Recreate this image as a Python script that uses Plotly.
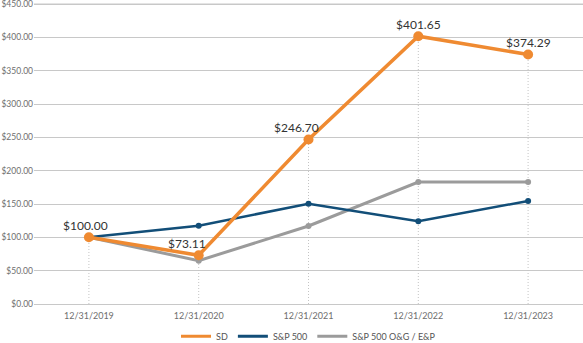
import plotly.graph_objects as go

categories = ["12/31/2019", "12/31/2020", "12/31/2021", "12/31/2022", "12/31/2023"]
sd_values = [100.00, 73.11, 246.70, 401.65, 374.29]
sp500_values = [100.0, 117.5, 150.4, 124.0, 154.5]
og_ep_values = [100.0, 65.0, 117.0, 183.0, 183.0]
sd_labels = ["$100.00", "$73.11", "$246.70", "$401.65", "$374.29"]
label_xshift = [-3, -12, -12, 0, 0]
y_top_tick = 450

ORANGE = "#EF8A31"
BLUE = "#124E78"
GRAY = "#9B9B9B"
FONT = "Lato, Arial, sans-serif"

series = [
    ("S&P 500 O&G / E&P", og_ep_values, GRAY, 3, 6),
    ("S&P 500", sp500_values, BLUE, 2.5, 6),
    ("SD", sd_values, ORANGE, 3.5, 10),
]

fig = go.Figure()

# dotted drop lines from SD points to axis
drop_x, drop_y = [], []
for c, v in zip(categories, sd_values):
    drop_x += [c, c, None]
    drop_y += [0, v, None]
fig.add_trace(go.Scatter(x=drop_x, y=drop_y, mode="lines",
                         line=dict(color="#C4C4C4", width=1, dash="1px,2px"),
                         showlegend=False, hoverinfo="skip"))

for name, vals, col, lw, ms in series:
    fig.add_trace(go.Scatter(x=categories, y=vals, name=name,
                             mode="lines+markers",
                             line=dict(color=col, width=lw),
                             marker=dict(color=col, size=ms),
                             showlegend=False))

# legend entries (line only)
for name, vals, col, lw, ms in reversed(series):
    fig.add_trace(go.Scatter(x=[None], y=[None], name=name, mode="lines",
                             line=dict(color=col, width=3), showlegend=True))

for c, v, t, xs in zip(categories, sd_values, sd_labels, label_xshift):
    fig.add_annotation(x=c, y=v, text=t, showarrow=False, yshift=12, xshift=xs,
                       font=dict(family=FONT, size=12, color="#333333"))

# top gridline (ensure visible at the edge of the plot)
fig.add_shape(type="line", xref="paper", x0=0, x1=1, yref="y",
              y0=y_top_tick, y1=y_top_tick, layer="below",
              line=dict(color="#C8C8C8", width=1))

fig.update_layout(
    width=583, height=343,
    margin=dict(l=34, r=0, t=1, b=39, autoexpand=False),
    paper_bgcolor="white", plot_bgcolor="white",
    font=dict(family=FONT, size=9, color="#6E6E6E"),
    legend=dict(orientation="h", x=0.5, xanchor="center",
                yref="container", y=0.02, yanchor="middle",
                font=dict(size=9, color="#555555"),
                itemwidth=30),
)
fig.update_xaxes(type="category", range=[-0.5, 4.5], showgrid=False,
                 showline=False, zeroline=False, ticks="", automargin=False,
                 ticklabelstandoff=5,
                 tickfont=dict(size=9, color="#6E6E6E"))
fig.update_yaxes(range=[0, 454.5], dtick=50, tickformat="$,.2f",
                 showgrid=True, gridcolor="#C8C8C8", gridwidth=1,
                 zeroline=True, zerolinecolor="#C8C8C8", zerolinewidth=1,
                 showline=False, ticks="", ticklabelstandoff=0, automargin=False,
                 ticklabeloverflow="allow",
                 tickfont=dict(size=8.5, color="#6E6E6E"))

fig.write_html("out.html")
